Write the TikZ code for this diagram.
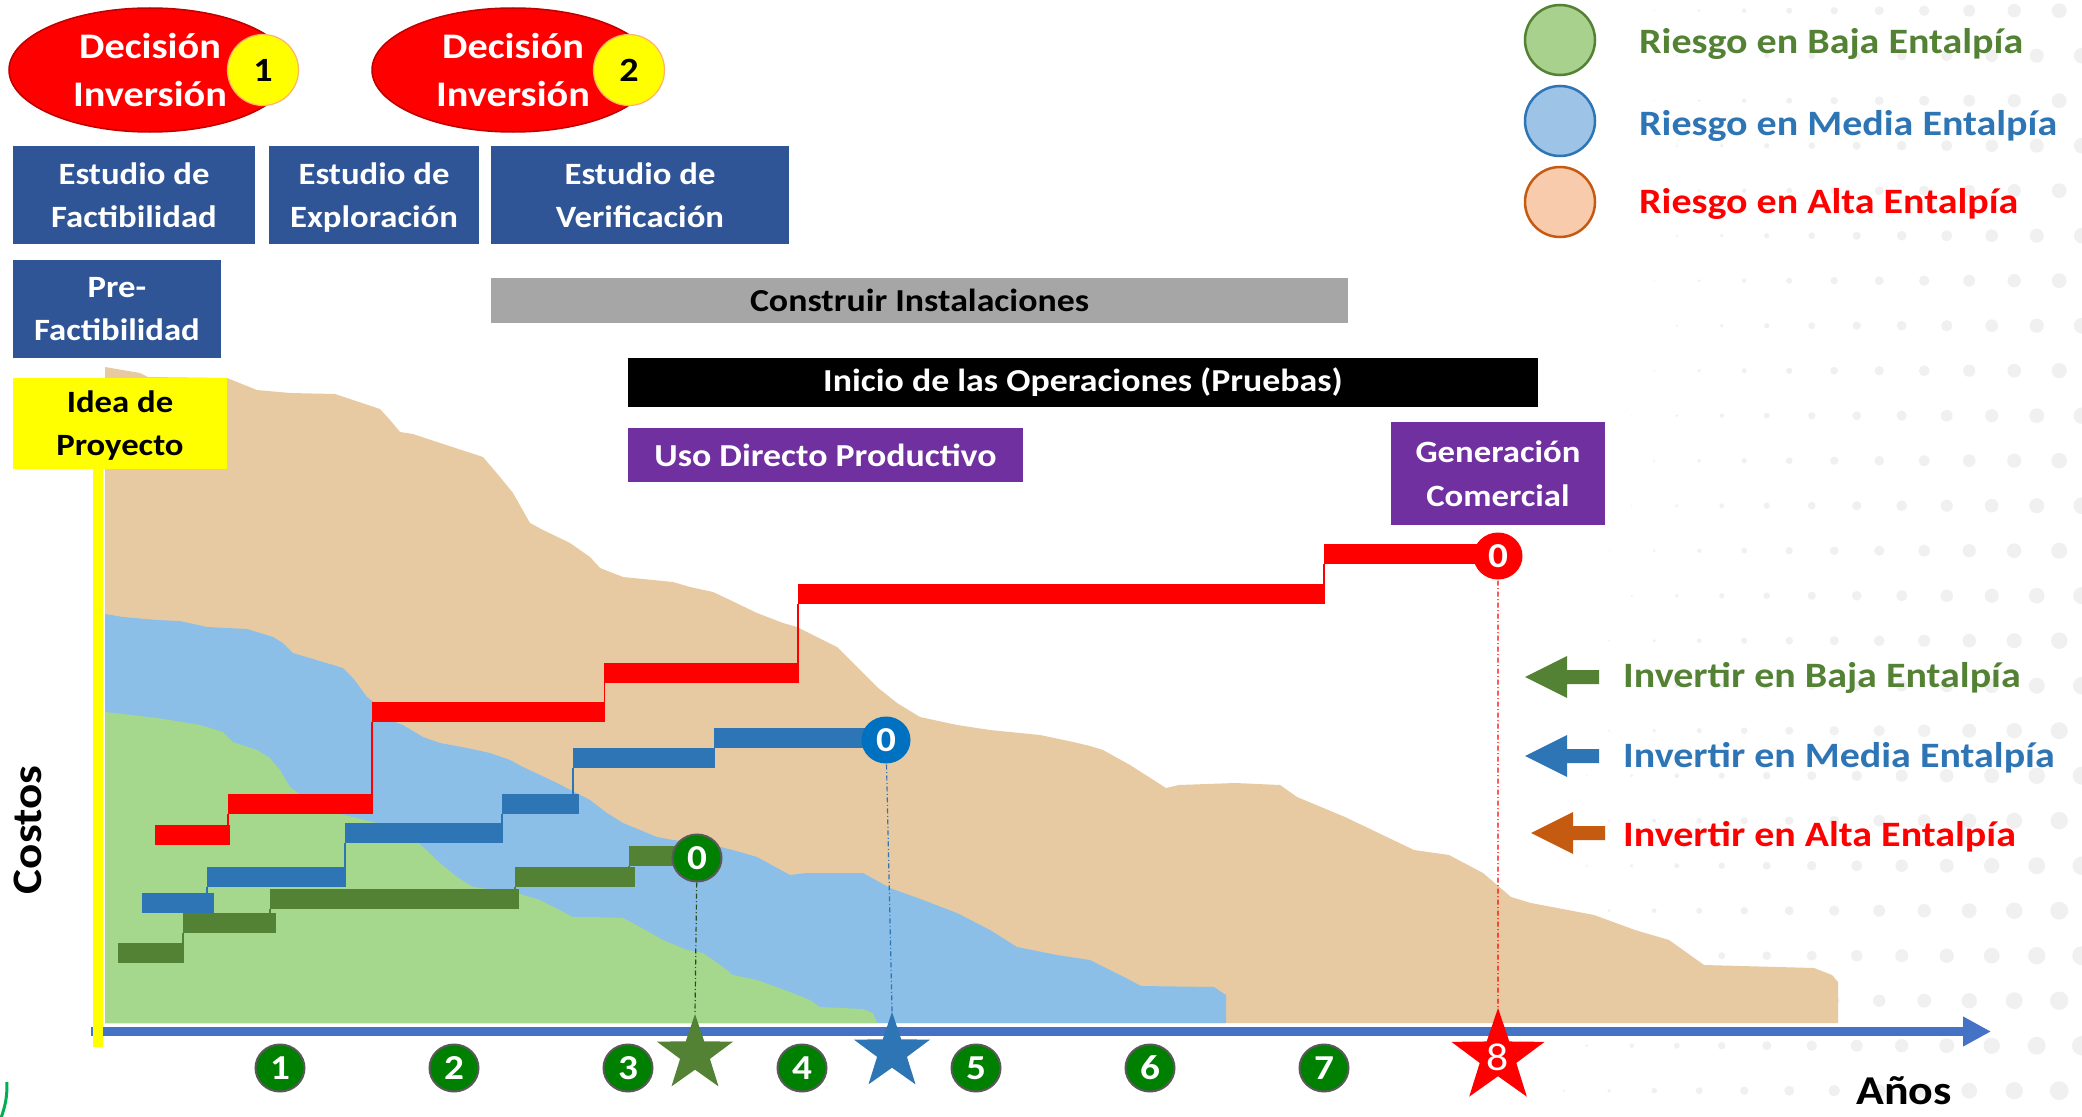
\documentclass[tikz,border=0pt]{standalone}
\usepackage{fontspec}
\setmainfont{Carlito}[FakeStretch=1.12]
\usetikzlibrary{shapes.geometric,arrows.meta}

\definecolor{tanfill}{HTML}{E7CAA2}
\definecolor{bluefill}{HTML}{8BBFE8}
\definecolor{greenfill}{HTML}{A5D78C}
\definecolor{stepgreen}{HTML}{548235}
\definecolor{stepblue}{HTML}{2E75B6}
\definecolor{studyblue}{HTML}{2F5597}
\definecolor{barpurple}{HTML}{7030A0}
\definecolor{bargray}{HTML}{A6A6A6}
\definecolor{axisblue}{HTML}{4472C4}
\definecolor{markgreen}{HTML}{008000}
\definecolor{markblue}{HTML}{0070C0}
\definecolor{ringgray}{HTML}{595959}
\definecolor{dotgray}{HTML}{F0F0F0}
\definecolor{legfillg}{HTML}{A9D18E}
\definecolor{legfillb}{HTML}{9DC3E6}
\definecolor{legfillo}{HTML}{F8CBAD}
\definecolor{arroworange}{HTML}{C55A11}
\definecolor{ideayellow}{HTML}{FFFF00}
\definecolor{edgegreen}{HTML}{00B050}

\newcommand{\fz}[2]{\fontsize{#1}{#2}\selectfont}
\newcommand{\nodepth}[1]{\raisebox{0pt}[\height][0pt]{#1}}

\tikzset{
  panel/.style={rectangle, inner sep=0pt, align=center, text=white,
    font=\bfseries\fz{31}{43}},
  stepbar/.style={rectangle, inner sep=0pt, minimum height=20, anchor=west},
  numdisc/.style={ellipse, inner sep=0pt, minimum width=49, minimum height=47,
    fill=markgreen, draw=ringgray, line width=2, text=white, font=\bfseries\fz{35}{38}},
  legcircle/.style={circle, inner sep=0pt, minimum size=70, line width=2.5},
  legtext/.style={anchor=base west, inner sep=0pt, font=\bfseries\fz{35.7}{40}},
  decision/.style={ellipse, inner sep=0pt, minimum width=282, minimum height=124,
    fill=red, draw=red!75!black, line width=1.5, text=white, align=center,
    font=\bfseries\fz{36}{48}},
  badge/.style={circle, inner sep=0pt, minimum size=71, fill=ideayellow,
    draw=orange!60, line width=1.2, font=\bfseries\fz{34}{36}},
  pointstar/.style={star, star points=5, star point ratio=2.55, inner sep=0pt, draw=none},
  guide/.style={line width=1.2, dash pattern=on 5pt off 2.5pt on 1pt off 2.5pt},
  riser/.style={line width=1.3},
}

\begin{document}
\begin{tikzpicture}[x=1pt, y=-1pt]
\useasboundingbox (0,0) rectangle (2082,1116);
\fill[white] (0,0) rectangle (2082,1116);

% dotted background texture, growing towards the right
\foreach \k in {0,...,24}{
  \foreach \j in {0,...,25}{
    \pgfmathsetmacro\yy{10.7+45*\k}
    \pgfmathsetmacro\xx{979.2+22.5*mod(\k,2)+45*\j}
    \pgfmathsetmacro\rr{min(10,0.0165*(\xx-1610)+0.0025*max(0,\yy-300))}
    \ifdim\rr pt>0.5pt \fill[dotgray] (\xx,\yy) circle[radius=\rr]; \fi
  }
}

% risk areas
\fill[tanfill] plot coordinates {(105,1023) (105,367) (140,373) (148,377) (227,378)
  (257,390) (290,393) (335,394) (347,398) (380,409) (390,420) (400,432) (413,434)
  (440,443) (483,457) (500,477) (513,493) (530,523) (543,530) (570,543) (590,557)
  (600,568) (623,577) (673,582) (690,587) (713,592) (730,600) (757,613) (783,623)
  (797,627) (817,637) (837,647) (857,667) (877,687) (897,703) (920,717) (957,725)
  (990,730) (1040,735) (1073,742) (1090,746) (1103,750) (1130,765) (1166,788)
  (1179,785) (1235,783) (1280,785) (1297,797) (1345,817) (1414,850) (1449,855)
  (1483,873) (1511,897) (1531,903) (1594,915) (1635,930) (1669,940) (1704,965)
  (1814,968) (1832,975) (1838,982) (1838,1023)} -- cycle;
\fill[bluefill] plot coordinates {(105,1023) (105,614) (123,617) (157,620) (180,621)
  (207,627) (247,629) (273,637) (283,643) (293,653) (323,662) (343,668) (353,678)
  (367,697) (380,707) (390,720) (403,725) (423,737) (440,743) (467,748) (490,753)
  (510,760) (523,767) (557,783) (590,800) (607,813) (623,823) (657,837) (673,840)
  (713,845) (740,852) (757,857) (790,875) (807,873) (863,873) (890,888) (923,900)
  (957,913) (990,930) (1017,947) (1057,955) (1090,960) (1124,977) (1141,986)
  (1214,987) (1226,995) (1226,1023)} -- cycle;
\fill[greenfill] plot coordinates {(105,1023) (105,712) (157,718) (200,725) (223,732)
  (233,742) (257,750) (270,758) (280,770) (290,787) (298,793) (323,810) (373,822)
  (407,833) (423,847) (440,863) (457,877) (473,887) (517,893) (540,900) (573,917)
  (590,917) (623,918) (640,927) (663,940) (687,950) (703,953) (723,967) (733,975)
  (757,980) (790,992) (810,1000) (820,1007) (863,1009) (873,1013) (877,1023)} -- cycle;

% investment steps: low enthalpy
\node[stepbar, fill=stepgreen, minimum width=65]  (g1) at (118,953) {};
\node[stepbar, fill=stepgreen, minimum width=93]  (g2) at (183,923) {};
\node[stepbar, fill=stepgreen, minimum width=249] (g3) at (270,899) {};
\node[stepbar, fill=stepgreen, minimum width=120] (g4) at (515,877) {};
\node[stepbar, fill=stepgreen, minimum width=50]  (g5) at (629,856) {};
% medium enthalpy
\node[stepbar, fill=stepblue, minimum width=72]  (b1) at (142,903) {};
\node[stepbar, fill=stepblue, minimum width=137] (b2) at (207,877) {};
\node[stepbar, fill=stepblue, minimum width=158] (b3) at (345,833) {};
\node[stepbar, fill=stepblue, minimum width=77]  (b4) at (502,804) {};
\node[stepbar, fill=stepblue, minimum width=142] (b5) at (573,758) {};
\node[stepbar, fill=stepblue, minimum width=153] (b6) at (714,738) {};
% high enthalpy
\node[stepbar, fill=red, minimum width=75]  (r1) at (155,835) {};
\node[stepbar, fill=red, minimum width=144] (r2) at (228,804) {};
\node[stepbar, fill=red, minimum width=232] (r3) at (372,712) {};
\node[stepbar, fill=red, minimum width=194] (r4) at (604,673) {};
\node[stepbar, fill=red, minimum width=526] (r5) at (798,594) {};
\node[stepbar, fill=red, minimum width=160] (r6) at (1324,554) {};

% thin risers between consecutive steps
\foreach \a/\b in {g1/g2,g2/g3,g3/g4,g4/g5}
  \draw[riser, stepgreen] (\b.south west) -- (\b.south west |- \a.south);
\foreach \a/\b in {b1/b2,b2/b3,b3/b4,b4/b5,b5/b6}
  \draw[riser, stepblue] (\b.south west) -- (\b.south west |- \a.south);
\foreach \a/\b in {r1/r2,r2/r3,r4/r5,r5/r6}
  \draw[riser, red] (\b.south west) -- (\b.south west |- \a.south);
\draw[riser, red] (r3.south east) -- (r3.south east |- r4.south);

% end-of-investment markers
\node[numdisc] (g0) at (697,858) {0};
\node[numdisc, fill=markblue, draw=none] (b0) at (886,740) {0};
\node[numdisc, fill=red, draw=none] (r0) at (1498,556) {0};

% time axis
\coordinate (axL) at (91,1031.5);
\coordinate (axR) at (1991,1031.5);
\draw[axisblue, line width=9, -{Triangle[length=28pt, width=28pt]}] (axL) -- (axR);

% stars on the axis
\node[pointstar, fill=stepgreen, minimum size=80] (gs) at (695,1054) {};
\node[pointstar, fill=stepblue, minimum size=80] (bs) at (892,1052) {};
\node[pointstar, fill=red, minimum size=98, text=white, font=\fz{39}{40}] (rs) at (1498,1057) {8};

\draw[guide, draw=stepgreen!55!black] (g0) -- (gs.north);
\draw[guide, draw=stepblue] (b0) -- (bs.north);
\draw[guide, draw=red] (r0) -- (rs.north);

% years
\foreach \n/\x in {1/280,2/454,3/628,4/802,5/976,6/1150,7/1324}
  \node[numdisc] (n\n) at (\x,1068) {\n};

% project phases
\node[panel, fill=studyblue, minimum width=242, minimum height=98] (fact) at (134,195) {Estudio de\\Factibilidad};
\node[panel, fill=studyblue, minimum width=210, minimum height=98] (expl) at (374,195) {Estudio de\\\nodepth{Exploración}};
\node[panel, fill=studyblue, minimum width=298, minimum height=98] (verif) at (640,195) {Estudio de\\Verificación};
\node[panel, fill=studyblue, minimum width=208, minimum height=98] (prefact) at (117,309) {Pre-\\Factibilidad};
\node[panel, fill=ideayellow, text=black, minimum width=214, minimum height=91] (idea) at (120,423.5) {Idea de\\\nodepth{Proyecto}};
\node[panel, fill=bargray, text=black, minimum width=857, minimum height=45, font=\bfseries\fz{32}{38}] (build) at (919.5,300.5) {Construir Instalaciones};
\node[panel, fill=black, minimum width=910, minimum height=49, font=\bfseries\fz{32}{38}] (ops) at (1083,382.5) {Inicio de las Operaciones (Pruebas)};
\node[panel, fill=barpurple, minimum width=395, minimum height=54, font=\bfseries\fz{32}{38}] (direct) at (825.5,455) {Uso Directo Productivo};
\node[panel, fill=barpurple, minimum width=214, minimum height=103, font=\bfseries\fz{31}{44}] (gen) at (1498,473.5) {Generación\\Comercial};

% vertical cost axis
\coordinate (ylow) at (98,1047);
\draw[ideayellow, line width=10] (idea.south -| ylow) -- (ylow);

% investment decisions
\node[decision] (dec1) at (150,70) {Decisión\\Inversión};
\node[badge] (k1) at (263,70) {1};
\node[decision] (dec2) at (513,70) {Decisión\\Inversión};
\node[badge] (k2) at (629,70) {2};

% legend: risk
\node[legcircle, fill=legfillg, draw=stepgreen] (lg) at (1560,40) {};
\node[legcircle, fill=legfillb, draw=stepblue] (lb) at (1560,121) {};
\node[legcircle, fill=legfillo, draw=arroworange] (lo) at (1560,202) {};
\node[legtext, text=stepgreen] (tg) at (1639,53) {Riesgo en Baja Entalpía};
\node[legtext, text=stepblue] (tb) at (1639,135) {Riesgo en Media Entalpía};
\node[legtext, text=red] (to) at (1639,213) {Riesgo en Alta Entalpía};

% legend: investment
\fill[stepgreen, shift={(1525,677)}] (0,0) -- (42,-21) -- (42,-7) -- (74,-7) -- (74,7) -- (42,7) -- (42,21) -- cycle;
\fill[stepblue, shift={(1525,756)}] (0,0) -- (42,-21) -- (42,-7) -- (74,-7) -- (74,7) -- (42,7) -- (42,21) -- cycle;
\fill[arroworange, shift={(1531,833)}] (0,0) -- (42,-21) -- (42,-7) -- (74,-7) -- (74,7) -- (42,7) -- (42,21) -- cycle;
\node[legtext, text=stepgreen] (ig) at (1623,687) {Invertir en Baja Entalpía};
\node[legtext, text=stepblue] (ib) at (1623,767) {Invertir en Media Entalpía};
\node[legtext, text=red] (ia) at (1623,846) {Invertir en Alta Entalpía};

% axis titles
\node[rotate=90, inner sep=0pt, font=\bfseries\fz{42}{48}] (costos) at (28,830) {Costos};
\node[anchor=base west, inner sep=0pt, font=\bfseries\fz{41}{48}] (anos) at (1856,1104) {Años};

% corner decoration
\draw[edgegreen, line width=3] (7,1082) to[bend left=10] (1,1118);
\end{tikzpicture}
\end{document}
